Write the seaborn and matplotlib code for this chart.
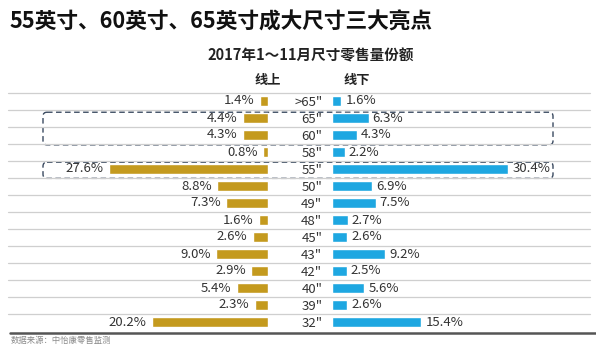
import matplotlib
matplotlib.use("Agg")
import matplotlib.pyplot as plt
import seaborn as sns
import pandas as pd
from matplotlib.patches import FancyBboxPatch
from matplotlib.lines import Line2D

sizes = ['>65"', '65"', '60"', '58"', '55"', '50"', '49"', '48"', '45"', '43"', '42"', '40"', '39"', '32"']
online = [1.4, 4.4, 4.3, 0.8, 27.6, 8.8, 7.3, 1.6, 2.6, 9.0, 2.9, 5.4, 2.3, 20.2]
offline = [1.6, 6.3, 4.3, 2.2, 30.4, 6.9, 7.5, 2.7, 2.6, 9.2, 2.5, 5.6, 2.6, 15.4]

title = "55英寸、60英寸、65英寸成大尺寸三大亮点"
subtitle = "2017年1～11月尺寸零售量份额"
left_name = "线上"
right_name = "线下"
source = "数据来源：中怡康零售监测"

sns.set_theme(style="white")
plt.rcParams['font.family'] = ['Noto Sans CJK SC', 'DejaVu Sans']

gold = "#C49A1E"
blue = "#1EA7E1"
txt = "#333333"

W, H = 596, 346
fig = plt.figure(figsize=(W / 100, H / 100), dpi=100)


def fx(px):
    return px / W


def fy(py):
    return 1 - py / H


top_px, bot_px = 92.5, 330.5
ax_h = (bot_px - top_px) / H

# background axes for gridlines and highlight boxes (x in pixels)
bg = fig.add_axes([fx(0), fy(bot_px), 1, ax_h], zorder=0)
bg.set_xlim(0, W)
bg.set_ylim(len(sizes) - 0.5, -0.5)
bg.axis("off")
for k in range(len(sizes)):
    bg.axhline(k - 0.5, xmin=8 / W, xmax=590 / W, color="#cfcfcf", lw=0.9)

for (x0, x1, r0, r1) in [(43, 553, 0.66, 2.58), (43, 553, 3.6, 4.55)]:
    box = FancyBboxPatch((x0, r0), x1 - x0, r1 - r0,
                         boxstyle="round,pad=0,rounding_size=4",
                         mutation_aspect=1 / 17,
                         fill=False, ec="#3a4a60", lw=1.0, ls=(0, (4, 2.5)))
    bg.add_patch(box)

df = pd.DataFrame({"size": sizes, "online": online, "offline": offline})

# left axes (online)
axL = fig.add_axes([fx(8), fy(bot_px), fx(268 - 8), ax_h], zorder=2)
axL.patch.set_alpha(0)
sns.barplot(data=df, x="online", y="size", ax=axL, color=gold, orient="h",
            width=0.56, saturation=1)
axL.set_xlim(260 / 5.75, 0)
axL.set_ylim(len(sizes) - 0.5, -0.5)
axL.bar_label(axL.containers[0], labels=[f"{v:.1f}%" for v in online],
              padding=4, fontsize=9.5, color=txt)
axL.axis("off")

# right axes (offline)
axR = fig.add_axes([fx(332), fy(bot_px), fx(590 - 332), ax_h], zorder=2)
axR.patch.set_alpha(0)
sns.barplot(data=df, x="offline", y="size", ax=axR, color=blue, orient="h",
            width=0.56, saturation=1)
axR.set_xlim(0, 258 / 5.8)
axR.set_ylim(len(sizes) - 0.5, -0.5)
axR.bar_label(axR.containers[0], labels=[f"{v:.1f}%" for v in offline],
              padding=3, fontsize=9.5, color=txt)
axR.set_xlabel("")
axR.set_ylabel("")
axR.set_xticks([])
axR.tick_params(axis="y", length=0, pad=7, labelsize=9.5, labelcolor=txt)
for s in axR.spines.values():
    s.set_visible(False)

# texts
fig.text(fx(10), fy(22), title, fontsize=15.6, fontweight="bold", color="#111111",
         ha="left", va="center")
fig.text(fx(311), fy(56), subtitle, fontsize=10.5, fontweight="bold", color="#222222",
         ha="center", va="center")
fig.text(fx(268), fy(80), left_name, fontsize=9.5, fontweight="bold", color="#222222",
         ha="center", va="center")
fig.text(fx(357), fy(80), right_name, fontsize=9.5, fontweight="bold", color="#222222",
         ha="center", va="center")

fig.add_artist(Line2D([fx(10), fx(596)], [fy(333), fy(333)], color="#555555", lw=1.8))
fig.text(fx(11), fy(340), source, fontsize=6, color="#8a8a8a", ha="left", va="center")

fig.savefig("out.png", dpi=100)
